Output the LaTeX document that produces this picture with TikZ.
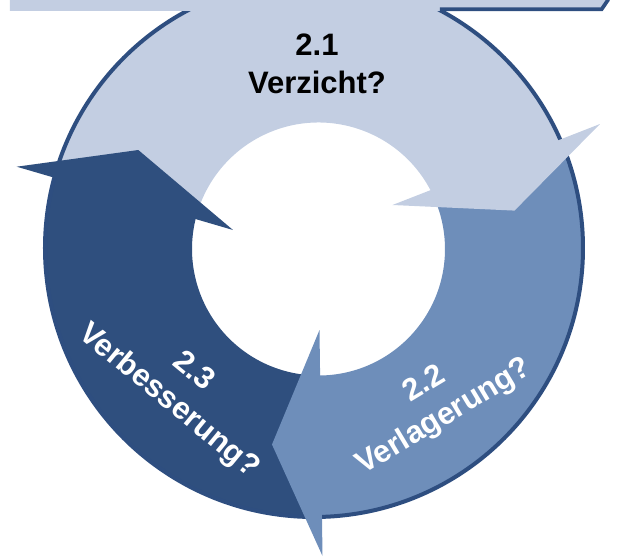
\documentclass[tikz,border=0pt]{standalone}
\usepackage{fontspec}
\setmainfont{Liberation Sans}
\usetikzlibrary{calc}
\definecolor{cLight}{RGB}{195,206,226}
\definecolor{cMed}{RGB}{110,142,186}
\definecolor{cDark}{RGB}{47,79,126}
\definecolor{cLine}{RGB}{46,78,128}
\begin{document}
\begin{tikzpicture}[x=1pt,y=1pt,
  seglight/.style={fill=cLight},
  segmed/.style={fill=cMed},
  segdark/.style={fill=cDark},
  ringline/.style={draw=cLine,line width=4pt},
  bandline/.style={draw=cLine,line width=3.7pt},
  lbl/.style={font=\bfseries\fontsize{31}{38}\selectfont,align=center,inner sep=0pt}]
\useasboundingbox (-316,-307) rectangle (322,248);
\coordinate (O) at (-2,0);
\coordinate (I) at (2.5,-1);
% ring bodies
\fill[seglight] ($(O)+(164.06:269)$) arc[start angle=164.06,end angle=22.28,radius=269pt]
  -- ($(I)+(26.21:126.5)$) arc[start angle=26.21,end angle=165.51,radius=126.5pt] -- cycle;
\fill[segmed] ($(O)+(22.98:269)$) arc[start angle=22.98,end angle=-89.8,radius=269pt]
  -- ($(I)+(-90.77:126.5)$) arc[start angle=-90.77,end angle=26.91,radius=126.5pt] -- cycle;
\fill[segdark] ($(O)+(-89.1:269)$) arc[start angle=-89.1,end angle=-196.64,radius=269pt]
  -- ($(I)+(-195.19:126.5)$) arc[start angle=-195.19,end angle=-90.07,radius=126.5pt] -- cycle;
% outer outline
\draw[ringline] (O) circle[radius=269pt];
% arrowheads
\fill[seglight] (284,124) -- (198.5,37.4) -- (76.5,43) -- cycle;
\fill[segmed] (3.5,-82) -- (-44,-196.5) -- (6.5,-308) -- cycle;
\fill[segdark] (-299.3,81.3) -- (-177.7,98) -- (-83,18) -- cycle;
% top band
\fill[seglight] (-306,249) -- (-306,237) -- (285.7,237) -- (292.5,249) -- cycle;
\draw[bandline] (124,238.8) -- (285.7,238.8) -- (292.3,248.5);
% labels
\node[lbl,text=black] (t21) at (1,184) {2.1\\Verzicht?};
\node[lbl,text=white,rotate=31] (t22) at (118.6,-153.2) {2.2\\Verlagerung?};
\node[lbl,text=white,rotate=-39.5] (t23) at (-135.4,-138.9) {2.3\\Verbesserung?};
\end{tikzpicture}
\end{document}
